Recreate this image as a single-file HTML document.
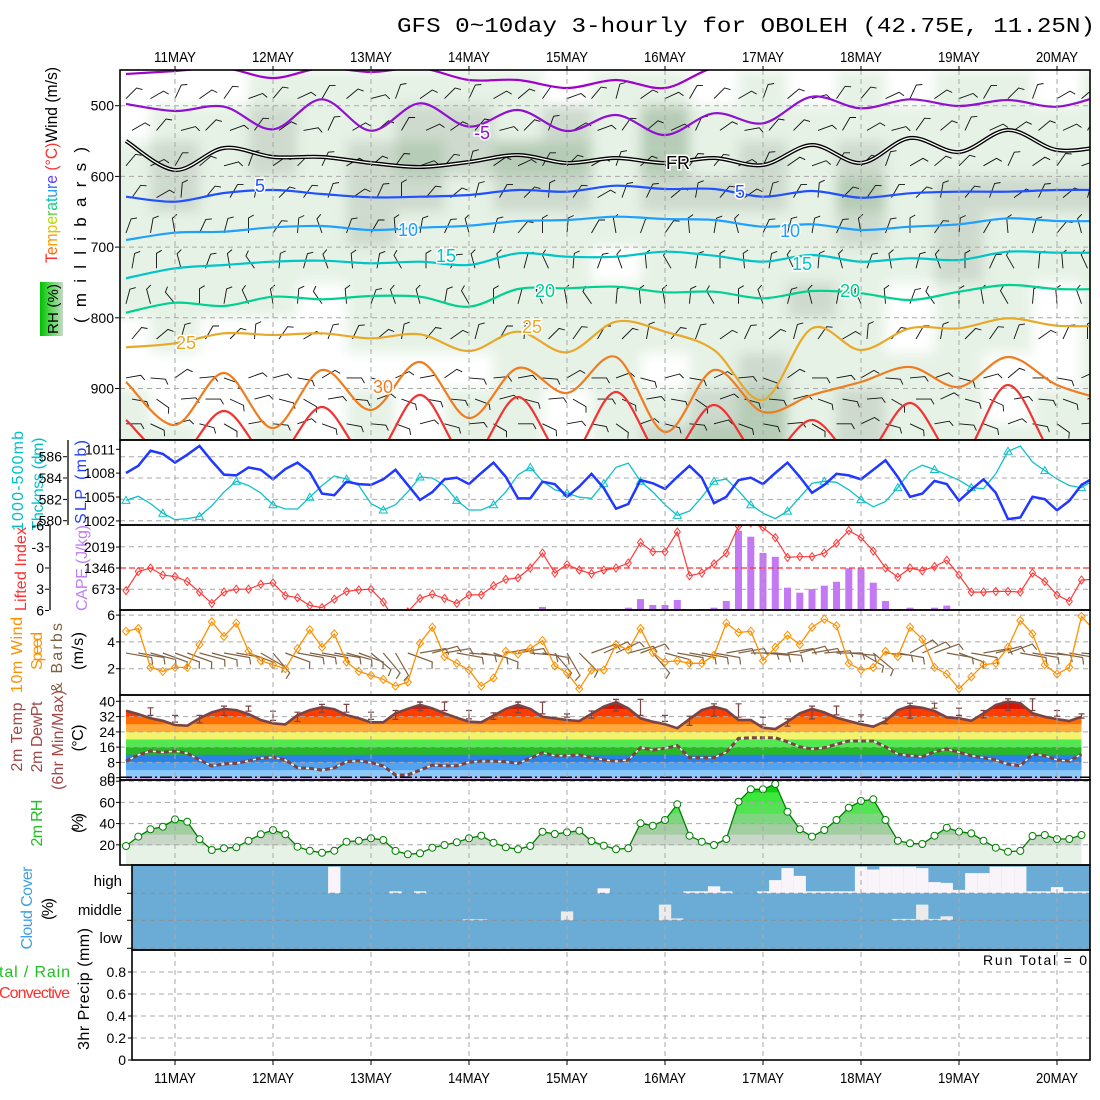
<!DOCTYPE html>
<html><head><meta charset="utf-8"><title>GFS meteogram OBOLEH</title>
<style>
html,body{margin:0;padding:0;background:#fff;}
svg{display:block;font-family:"Liberation Sans",sans-serif;}
</style></head>
<body>
<svg id="chart" xmlns="http://www.w3.org/2000/svg" width="1100" height="1100" viewBox="0 0 1100 1100">
<defs>
<clipPath id="c1"><rect x="120" y="70" width="970" height="370"/></clipPath>
<clipPath id="c2"><rect x="120" y="440" width="970" height="85"/></clipPath>
<clipPath id="c3"><rect x="120" y="525" width="970" height="85"/></clipPath>
<clipPath id="c4"><rect x="120" y="610" width="970" height="85"/></clipPath>
<clipPath id="c5"><rect x="120" y="695" width="970" height="85"/></clipPath>
<clipPath id="c6"><rect x="120" y="780" width="970" height="85"/></clipPath>
<filter id="blur" x="-5%" y="-5%" width="110%" height="110%"><feGaussianBlur stdDeviation="6"/></filter>
<linearGradient id="rhgrad" x1="0" y1="0" x2="1" y2="0"><stop offset="0" stop-color="#00c000"/><stop offset="0.5" stop-color="#60d860"/><stop offset="1" stop-color="#c8d8c8"/></linearGradient>
</defs>
<rect x="0" y="0" width="1100" height="1100" fill="#fff"/>
<text x="397" y="32" font-family="Liberation Mono, monospace" font-size="21" textLength="698" lengthAdjust="spacingAndGlyphs">GFS 0~10day 3-hourly for OBOLEH (42.75E, 11.25N)</text>

<text transform="translate(57,165) rotate(-90)" text-anchor="middle" font-size="17" textLength="196" lengthAdjust="spacingAndGlyphs"><tspan fill="#ff3030">T</tspan><tspan fill="#ff6a00">e</tspan><tspan fill="#ff9a00">m</tspan><tspan fill="#e8c000">p</tspan><tspan fill="#b8d800">e</tspan><tspan fill="#60d040">r</tspan><tspan fill="#20c880">a</tspan><tspan fill="#00c0c0">t</tspan><tspan fill="#20a0f0">u</tspan><tspan fill="#3070ff">r</tspan><tspan fill="#6040ff">e</tspan><tspan fill="#ff3030"> (°C)</tspan><tspan fill="#000">Wind (m/s)</tspan></text>
<text transform="translate(86,235) rotate(-90)" text-anchor="middle" font-size="17" textLength="176" lengthAdjust="spacing">(millibars)</text>
<rect x="40" y="282" width="23" height="54" fill="url(#rhgrad)"/>
<text transform="translate(58,309) rotate(-90)" text-anchor="middle" font-size="15" textLength="50">RH (%)</text>
<text transform="translate(23,481) rotate(-90)" text-anchor="middle" font-size="16" fill="#00c0c8" textLength="100">1000-500mb</text>
<text transform="translate(43,484) rotate(-90)" text-anchor="middle" font-size="16" fill="#00c0c8" textLength="93">Thcknss (dm)</text>
<text transform="translate(86,482) rotate(-90)" text-anchor="middle" font-size="16" fill="#2040ff" textLength="84">SLP (mb)</text>
<text transform="translate(26,569) rotate(-90)" text-anchor="middle" font-size="16" fill="#ff3030" textLength="84">Lifted Index</text>
<text transform="translate(87,568) rotate(-90)" text-anchor="middle" font-size="16" fill="#c080f0" textLength="86">CAPE (J/kg)</text>
<text transform="translate(22,655) rotate(-90)" text-anchor="middle" font-size="16" fill="#ff9000" textLength="76">10m Wind</text>
<text transform="translate(42,651) rotate(-90)" text-anchor="middle" font-size="16" fill="#ff9000" textLength="38">Speed</text>
<text transform="translate(62,658) rotate(-90)" text-anchor="middle" font-size="16" fill="#806040" textLength="70">&amp; Barbs</text>
<text transform="translate(83,651) rotate(-90)" text-anchor="middle" font-size="16" textLength="38">(m/s)</text>
<text transform="translate(22,737) rotate(-90)" text-anchor="middle" font-size="16" fill="#a04848" textLength="69">2m Temp</text>
<text transform="translate(42,737) rotate(-90)" text-anchor="middle" font-size="16" fill="#a04848" textLength="71">2m DewPt</text>
<text transform="translate(63,740) rotate(-90)" text-anchor="middle" font-size="16" fill="#a04848" textLength="100">(6hr Min/Max)</text>
<text transform="translate(83,738) rotate(-90)" text-anchor="middle" font-size="16" textLength="27">(°C)</text>
<text transform="translate(42,823) rotate(-90)" text-anchor="middle" font-size="16" fill="#20c020" textLength="47">2m RH</text>
<text transform="translate(83,823) rotate(-90)" text-anchor="middle" font-size="16" textLength="20">(%)</text>
<text transform="translate(32,908) rotate(-90)" text-anchor="middle" font-size="16" fill="#40a0e0" textLength="83">Cloud Cover</text>
<text transform="translate(53,909) rotate(-90)" text-anchor="middle" font-size="16" textLength="22">(%)</text>
<text x="-1" y="977" font-size="16" fill="#20c020" textLength="71">tal / Rain</text>
<text x="-1" y="998" font-size="16" fill="#ff3030" textLength="71">Convective</text>
<text transform="translate(89,989) rotate(-90)" text-anchor="middle" font-size="16" textLength="122">3hr Precip (mm)</text>
<text x="1087" y="965" text-anchor="end" font-size="14" textLength="104">Run Total = 0</text>
</svg>
<script>
// ===== DATA (3-hourly, starting 12Z 10 May) =====
const days = ['11MAY','12MAY','13MAY','14MAY','15MAY','16MAY','17MAY','18MAY','19MAY','20MAY'];
const slp = [1008.4,1009.3,1011.2,1010.8,1009.7,1010.7,1011.8,1009.9,1008.2,1008.1,1009.1,1008.8,1007.6,1008.9,1009.7,1008.5,1005.8,1005.6,1007.3,1007.0,1006.9,1007.6,1008.8,1006.9,1005.0,1006.0,1007.6,1007.8,1007.0,1008.4,1009.7,1007.9,1005.2,1005.2,1007.3,1007.0,1005.4,1006.7,1008.3,1006.5,1003.9,1004.5,1007.5,1007.1,1006.4,1007.9,1009.3,1007.8,1004.6,1005.4,1007.5,1007.8,1007.0,1008.4,1009.7,1007.9,1005.9,1006.9,1008.3,1008.1,1007.6,1008.8,1010.0,1007.9,1005.4,1005.8,1007.4,1007.0,1004.9,1006.3,1007.6,1005.9,1002.6,1002.8,1005.4,1005.1,1003.7,1004.9,1006.9,1007.8];
const thick = [581.9,582.3,581.6,580.7,580.1,580.2,580.4,581.4,582.7,583.7,583.3,582.6,581.5,581.1,581.1,582.2,583.3,584.2,583.9,583.3,581.6,581.0,581.5,582.7,584.1,584.0,583.3,581.9,581.0,581.0,581.5,582.7,584.3,585.0,583.7,582.9,582.6,582.2,582.1,583.5,585.0,585.4,583.7,582.7,581.5,580.5,580.9,582.2,583.7,583.9,582.8,581.5,580.7,580.2,580.9,582.2,583.5,583.7,583.6,582.9,582.0,581.3,581.8,583.1,584.6,585.2,584.8,584.3,583.8,583.1,583.0,584.4,586.5,587.0,585.5,584.7,583.9,583.3,583.1,583.8];
const liftedIndex = [3.2,0.5,0.0,1.0,1.2,1.9,3.4,5.0,3.4,3.0,3.0,2.3,2.1,3.9,4.2,5.3,5.6,4.4,3.3,3.1,3.0,4.8,7.5,6.2,4.3,3.7,4.3,5.0,3.8,3.8,2.5,1.6,1.4,0.0,-2.1,0.7,-0.5,0.3,0.8,0.3,0.0,-0.7,-3.6,-2.3,-2.3,-5.1,1.1,0.7,-0.6,-2.1,-5.9,-6.4,-5.7,-4.3,-1.5,-1.6,-1.6,-2.1,-3.5,-5.3,-4.3,-2.4,0.0,1.3,0.0,0.4,-0.2,-1.1,1.0,3.4,3.4,3.3,3.3,3.4,0.7,1.9,3.8,4.7,1.7,1.6];
const cape = [0,0,0,15,15,0,0,0,0,0,0,0,0,0,0,0,0,0,0,0,0,0,0,0,0,0,0,0,0,0,0,0,0,30,100,0,30,30,30,30,30,75,350,160,160,320,0,30,75,290,2540,2350,1830,1705,715,555,670,780,905,1335,1335,875,290,30,75,30,75,140,0,0,30,0,0,0,0,0,0,0,30,0];
const windSpeed = [4.8,5.0,2.1,1.8,2.1,2.1,3.8,5.5,4.4,5.4,3.3,2.6,2.3,2.0,3.5,4.9,3.6,4.6,2.5,1.8,1.5,1.2,0.7,1.0,3.9,5.1,2.9,2.4,1.9,0.7,1.3,3.3,3.1,3.5,4.1,2.2,1.7,0.5,1.9,1.9,3.8,3.4,5.0,3.2,2.5,2.6,2.4,2.4,3.0,5.4,4.7,4.8,2.6,3.6,4.5,3.8,5.1,5.7,5.2,2.4,1.9,2.1,3.3,2.9,5.1,4.2,2.1,1.6,0.5,1.4,2.3,2.4,3.6,5.6,4.6,2.3,1.6,2.1,5.9,4.9];
const windDir = [100,100,105,110,110,110,105,105,100,100,110,120,140,110,100,100,100,100,105,110,130,140,150,110,80,75,80,100,95,100,110,80,80,95,100,140,150,135,70,65,65,75,70,140,105,100,100,100,100,80,80,90,95,95,80,75,80,85,90,95,120,130,95,100,60,65,70,100,110,100,80,75,70,100,100,95,100,100,95,95];
const temp2m = [35.1,33.3,31.1,29.8,27.6,27.2,31.1,34.2,36.0,35.4,33.3,30.2,28.5,27.9,32.8,35.4,36.9,35.8,32.8,31.1,29.0,29.0,33.7,36.0,38.1,36.3,33.7,31.4,29.3,29.0,32.5,36.0,38.1,36.0,31.9,31.1,30.2,29.7,33.4,37.2,39.5,36.3,31.1,29.3,28.0,25.9,30.7,35.4,37.2,35.4,30.2,30.2,26.2,25.5,29.3,33.7,36.0,34.2,31.4,29.7,28.0,26.7,29.7,35.4,37.5,36.6,34.9,31.6,31.1,29.8,33.7,38.1,39.8,39.0,33.7,31.9,30.7,29.7,31.9];
const dew2m = [8.7,11.9,14.0,13.3,14.0,12.8,9.3,6.1,7.2,7.5,8.9,10.2,10.7,9.3,5.2,4.9,4.0,5.2,8.4,8.9,7.9,6.1,1.4,1.4,4.0,6.6,6.3,6.3,8.1,8.7,8.7,8.4,7.5,10.2,13.1,11.5,11.5,11.9,10.5,9.3,8.7,9.3,15.7,14.5,15.4,16.8,10.5,10.5,10.5,13.3,20.6,20.9,20.9,20.9,18.8,16.2,15.0,15.7,17.5,19.2,19.2,19.2,16.2,12.3,11.5,11.0,13.6,15.0,13.3,11.5,10.5,9.3,7.0,6.3,12.3,11.5,9.3,8.7,12.3];
const rh2m = [18.9,27.7,34.6,37.1,44.0,41.8,25.2,15.1,16.7,17.6,23.9,29.9,34.0,29.9,18.2,14.4,12.5,14.4,22.9,23.9,26.1,24.5,14.2,11.0,12.0,17.3,19.8,22.4,26.1,28.6,22.0,17.6,15.8,18.9,32.4,30.2,31.8,33.3,23.6,19.2,15.8,16.7,40.3,38.0,43.4,58.2,28.6,22.9,19.8,25.5,60.7,72.4,72.4,77.4,51.2,34.6,27.7,34.0,43.4,55.0,61.3,62.9,43.4,23.9,21.4,20.8,28.6,36.1,32.4,30.8,23.9,17.3,13.5,14.2,28.3,29.2,25.5,25.5,29.2];
const cloudHigh = [0,0,0,0,0,0,0,0,0,0,0,0,0,0,0,0,0,95,0,0,0,0,7,0,7,0,0,0,0,0,0,0,0,0,0,0,0,0,0,18,0,0,0,0,0,0,7,7,25,7,0,0,7,47,90,62,7,7,7,7,95,85,95,95,95,90,40,37,12,72,72,95,95,95,7,7,22,7,7,7];
const cloudMid = [0,0,0,0,0,0,0,0,0,0,0,0,0,0,0,0,0,0,0,0,0,0,0,0,0,0,0,0,4,4,0,0,0,0,0,0,33,0,0,0,0,0,0,0,58,7,0,0,0,0,0,0,0,0,0,0,0,0,0,0,0,0,0,5,5,58,5,15,0,0,0,0,0,0,0,0,0,0,0,0];
const cloudLow = new Array(80).fill(0);
const precip = new Array(80).fill(0);
const isoTimes = [0,4,8,12,16,20,24,28,32,36,40,44,48,52,56,60,64,68,72,76,80];
const isoM10 = [455.2,450.9,446.7,460.8,446.7,452.3,446.7,463.6,463.6,474.9,463.6,474.9,446.7,446.7,446.7,446.7,446.7,443.8,443.8,443.8,443.8];
const isoM5 = [497.6,507.5,501.4,533.4,490.9,535.4,496.6,529.6,506.1,535.8,513.2,541.4,510.7,524.9,487.3,503.7,490.9,500.4,491.9,501.4,483.5];
const iso0 = [549.9,590.9,559.8,572.6,572.6,581.0,586.7,579.6,569.7,581.0,574.0,581.0,574.0,583.9,555.6,581.0,545.7,565.5,534.4,562.7,557.0];
const iso5 = [628.7,635.8,623.5,619.2,624.9,629.6,628.7,626.3,619.2,621.6,613.2,617.8,617.8,628.7,620.6,630.1,623.9,621.6,621.6,619.2,619.2];
const iso10 = [690.0,679.6,678.2,672.0,670.2,675.8,672.6,669.7,663.1,661.7,657.0,660.3,661.7,671.1,667.7,675.8,671.1,667.7,659.3,663.1,663.1];
const iso15 = [744.1,730.0,725.3,720.6,719.2,722.9,720.6,725.3,708.8,713.6,713.6,706.5,712.2,720.6,711.2,720.6,715.8,718.2,706.5,707.9,707.9];
const iso20 = [792.8,778.6,783.3,770.2,773.8,769.2,770.2,784.3,759.3,758.3,756.0,763.9,763.1,772.4,762.1,765.4,774.8,763.1,753.6,759.3,759.3];
const iso25 = [841.7,836.1,821.9,824.3,821.9,829.0,823.3,847.0,819.7,848.8,805.5,819.7,845.5,916.2,814.8,845.5,814.8,814.8,800.7,811.2,811.2];
const iso30 = [890.8,951.6,878.1,955.9,873.8,930.4,862.5,941.7,871.0,906.4,855.4,961.5,873.8,933.2,909.2,890.8,869.6,897.9,855.4,895.1,916.2];
const iso35 = [944.5,1001,931.8,1001,926.2,1001,909.2,1001,912.0,1001,904.9,1001,923.4,1001,944.5,1001,920.5,1001,895.1,1001,1001];
const rhLevels = [475,525,575,625,675,725,775,825,875,925,975];
const rhGrid = [
[20,20,40,40,40,40,40,20,20,40,40],[20,40,60,60,40,40,40,40,20,20,40],[20,40,40,40,40,40,40,20,20,20,20],
[40,60,60,40,40,40,40,20,20,20,40],[40,40,40,40,40,40,20,20,20,20,20],[40,40,60,60,60,40,40,40,20,40,40],
[40,60,70,60,40,40,40,40,20,20,20],[40,60,60,40,40,40,40,40,20,40,40],[40,40,70,60,40,40,40,40,40,40,40],
[20,60,70,60,40,40,40,40,40,20,20],[40,40,40,40,40,20,40,40,40,40,40],[40,70,70,60,40,40,40,40,20,40,60],
[20,40,40,60,40,40,40,40,40,60,70],[40,40,60,60,40,40,40,40,60,70,70],[20,40,40,40,40,40,60,40,40,40,40],
[40,40,60,70,60,40,40,40,40,60,60],[20,40,40,40,40,40,20,20,40,40,40],[40,40,40,60,60,60,40,40,40,40,40],
[40,40,40,60,40,40,40,40,20,20,40],[20,40,40,60,40,40,20,20,20,40,40],[40,40,40,60,40,40,40,40,40,40,40]];
const barbLevels = [490,535,585,630,680,730,780,830,885,915,950];
const barbDir = [45,50,45,30,10,355,350,30,80,95,95];
const barbColOffset = [0,15,-20,10,-10,25,-5,20,-15,5,30,-25,10,0,-20,15,5,-10,25,-5,-30,10,20,-15,0,15,-25,5,30,-10,-5,20,-20,10,25,-15,0,-25,15,5];

// ===== SCALES =====
const NS='http://www.w3.org/2000/svg';
const svg=document.getElementById('chart');
function mk(tag,at,parent){const e=document.createElementNS(NS,tag);for(const k in at)e.setAttribute(k,at[k]);(parent||svg).appendChild(e);return e;}
const X=i=>126+i*12.25;
const dayX=d=>X(4+8*d);
const yP=p=>105.7+(p-500)*0.707;
const ySLP=v=>500-(v-1005)*7.95;
const yTh=v=>520.7-(v-580)*10.67;
const yLI=v=>568+v*7.08;
const yCAPE=v=>610-v/32.05;
const yW=v=>695.5-v*13.4;
const yT=v=>777.7-v*1.91;
const yRH=v=>866-v*1.06;
const yPr=v=>1060-v*110;
const f=n=>n.toFixed(1);
function poly(xs,ys){return xs.map((x,k)=>f(x)+','+f(ys[k])).join(' ');}
function smooth(pts){let d='M'+f(pts[0][0])+','+f(pts[0][1]);for(let i=0;i<pts.length-1;i++){const p0=pts[i-1]||pts[i],p1=pts[i],p2=pts[i+1],p3=pts[i+2]||p2;const c1=[p1[0]+(p2[0]-p0[0])/6,p1[1]+(p2[1]-p0[1])/6],c2=[p2[0]-(p3[0]-p1[0])/6,p2[1]-(p3[1]-p1[1])/6];d+='C'+f(c1[0])+','+f(c1[1])+' '+f(c2[0])+','+f(c2[1])+' '+f(p2[0])+','+f(p2[1]);}return d;}
const grid='#a8a8a8';

// ===== PANEL 1 =====
const g1=mk('g',{'clip-path':'url(#c1)'});


const rhG=mk('g',{filter:'url(#blur)'},g1);


isoTimes.forEach((t,c)=>{rhLevels.forEach((p,r)=>{const v=rhGrid[c][r];if(v<30)return;
  const col=v>=70?'#b6ccb6':(v>=50?'#cddacd':'#e6f2e6');
  const cell=mk('rect',{x:f(X(t)-24.5),y:f(yP(p-25)),width:49,height:f(35.4),fill:col},rhG);
  
  });});
[500,600,700,800,900].forEach(p=>{const l=mk('line',{x1:120,x2:1090,y1:f(yP(p)),y2:f(yP(p)),stroke:grid,'stroke-dasharray':'5,4'},g1);
  
  });
const bg=mk('g',{stroke:'#111','stroke-width':0.9,fill:'none'},g1);


for(let c=0;c<40;c++){const i=c*2+((c%2)?0:1)*0;barbLevels.forEach((p,k)=>{const d=(barbDir[k]+barbColOffset[(c+k*3)%40])*Math.PI/180;const x0=X(c*2)+((k%2)?6:0),y0=yP(p);const L=15;
  const x1=x0+Math.sin(d)*L,y1=y0-Math.cos(d)*L;const d2=d+Math.PI/3;
  const b=mk('path',{d:'M'+f(x0)+','+f(y0)+'L'+f(x1)+','+f(y1)+'l'+f(Math.sin(d2)*6)+','+f(-Math.cos(d2)*6)},bg);
  
  });}
const isoSets=[[isoM10,'#a000cc','isotherm-minus10'],[isoM5,'#9010d0','isotherm-minus5'],[iso5,'#2050ff','isotherm-5'],[iso10,'#1ea0ff','isotherm-10'],[iso15,'#00c4c8','isotherm-15'],[iso20,'#00d090','isotherm-20'],[iso25,'#e8a828','isotherm-25'],[iso30,'#f07c20','isotherm-30'],[iso35,'#f03434','isotherm-35']];
isoSets.forEach(s=>{const pts=isoTimes.map((t,k)=>[X(t),yP(s[0][k])]);const pa=mk('path',{d:smooth(pts),fill:'none',stroke:s[1],'stroke-width':2.2},g1);
  
  });
{const pts=isoTimes.map((t,k)=>[X(t),yP(iso0[k])]);
 const a=mk('path',{d:smooth(pts),fill:'none',stroke:'#000','stroke-width':4},g1);
 
 
 const b=mk('path',{d:smooth(pts),fill:'none',stroke:'#fff','stroke-width':1.3},g1);
 
 }
const isoLabels=[['-5',482,139,'#9010d0'],['5',260,192,'#2050ff'],['10',408,236,'#1ea0ff'],['15',446,262,'#00c4c8'],['20',545,297,'#00d090'],['25',186,349,'#e8a828'],['25',532,333,'#e8a828'],['30',383,393,'#f07c20'],['FR',678,169,'#000'],['5',740,198,'#2050ff'],['10',790,237,'#1ea0ff'],['15',802,270,'#00c4c8'],['20',850,297,'#00d090']];
isoLabels.forEach(l=>{const t=mk('text',{x:l[1],y:l[2],'text-anchor':'middle','font-size':18,fill:l[3],stroke:'#fff','stroke-width':3,'paint-order':'stroke'},g1);t.textContent=l[0];
  
  });

// ===== PANEL 2 =====
const g2=mk('g',{'clip-path':'url(#c2)'});


[580,582,584,586].forEach(v=>{const l=mk('line',{x1:120,x2:1090,y1:f(yTh(v)),y2:f(yTh(v)),stroke:grid,'stroke-dasharray':'5,4'},g2);
  
  });
const xs80=slp.map((v,i)=>X(i));
const thL=mk('polyline',{points:poly(xs80,thick.map(yTh)),fill:'none',stroke:'#10c0c8','stroke-width':1.3},g2);


thick.forEach((v,i)=>{if(i%3!==0)return;const x=X(i),y=yTh(v);const m=mk('path',{d:'M'+f(x)+','+f(y-4)+'L'+f(x+4)+','+f(y+3)+'L'+f(x-4)+','+f(y+3)+'Z',fill:'none',stroke:'#10c0c8','stroke-width':1},g2);
  
  });
const slpL=mk('polyline',{points:poly(xs80,slp.map(ySLP)),fill:'none',stroke:'#2038ff','stroke-width':2.5},g2);



// ===== PANEL 3 =====
const g3=mk('g',{'clip-path':'url(#c3)'});


[-3,3].forEach(v=>{const l=mk('line',{x1:120,x2:1090,y1:f(yLI(v)),y2:f(yLI(v)),stroke:grid,'stroke-dasharray':'5,4'},g3);
  
  });
cape.forEach((v,i)=>{if(v<=0)return;const bar=mk('rect',{x:f(X(i)-3.5),y:f(yCAPE(v)),width:7,height:f(610-yCAPE(v)),fill:'#c478f4'},g3);
  
  });
const li0=mk('line',{x1:120,x2:1090,y1:yLI(0),y2:yLI(0),stroke:'#ff3030','stroke-dasharray':'6,3','stroke-width':1.3},g3);


const liL=mk('polyline',{points:poly(xs80,liftedIndex.map(yLI)),fill:'none',stroke:'#ff3838','stroke-width':1.2},g3);


liftedIndex.forEach((v,i)=>{const x=X(i),y=yLI(v);const m=mk('path',{d:'M'+f(x)+','+f(y-4)+'L'+f(x+3)+','+f(y)+'L'+f(x)+','+f(y+4)+'L'+f(x-3)+','+f(y)+'Z',fill:'none',stroke:'#ff3838','stroke-width':1},g3);
  
  });

// ===== PANEL 4 =====
const g4=mk('g',{'clip-path':'url(#c4)'});


[2,4,6].forEach(v=>{const l=mk('line',{x1:120,x2:1090,y1:f(yW(v)),y2:f(yW(v)),stroke:grid,'stroke-dasharray':'5,4'},g4);
  
  });
windDir.forEach((dd,i)=>{const d=dd*Math.PI/180;const x0=X(i),y0=653;const L=26;const x1=x0+Math.sin(d)*L,y1=y0-Math.cos(d)*L;const d2=d+Math.PI/2.5;
  const b=mk('path',{d:'M'+f(x0)+','+f(y0)+'L'+f(x1)+','+f(y1)+'l'+f(Math.sin(d2)*7)+','+f(-Math.cos(d2)*7),stroke:'#806040','stroke-width':1.2,fill:'none'},g4);
  
  });
const wsL=mk('polyline',{points:poly(xs80,windSpeed.map(yW)),fill:'none',stroke:'#ff9000','stroke-width':1.3},g4);


windSpeed.forEach((v,i)=>{const x=X(i),y=yW(v);const m=mk('path',{d:'M'+f(x)+','+f(y-4)+'L'+f(x+3.5)+','+f(y)+'L'+f(x)+','+f(y+4)+'L'+f(x-3.5)+','+f(y)+'Z',fill:'none',stroke:'#ff9000','stroke-width':1},g4);
  
  });

// ===== PANEL 5 =====
const g5=mk('g',{'clip-path':'url(#c5)'});


const tN=temp2m.length;
const tXs=temp2m.map((v,i)=>X(i));
mk('clipPath',{id:'tclip'},svg.querySelector('defs'));
const tcp=document.getElementById('tclip');
mk('polygon',{points:poly(tXs,temp2m.map(yT))+' '+f(X(tN-1))+',781 '+f(X(0))+',781'},tcp);
const bandG=mk('g',{'clip-path':'url(#tclip)'},g5);


const bands=[[40,46,'#b00000'],[36,40,'#d81400'],[32,36,'#ff3c00'],[28,32,'#ff6c00'],[24,28,'#ffaa3c'],[20,24,'#f4f46c'],[16,20,'#50ea50'],[12,16,'#28b828'],[8,12,'#2a82e6'],[4,8,'#52a2f2'],[0,4,'#8cc8f8']];
bands.forEach(b=>{const r=mk('rect',{x:120,y:f(yT(b[1])),width:970,height:f(yT(b[0])-yT(b[1])+0.5),fill:b[2]},bandG);
  
  });
const lav=mk('rect',{x:f(X(0)),y:777.7,width:f(X(tN-1)-X(0)),height:3,fill:'#c8a8e0'},g5);


[8,16,24,32,40].forEach(v=>{const l=mk('line',{x1:120,x2:1090,y1:f(yT(v)),y2:f(yT(v)),stroke:grid,'stroke-dasharray':'5,4'},g5);
  
  });
const zl=mk('line',{x1:120,x2:1090,y1:777.2,y2:777.2,stroke:'#000','stroke-width':1.5,'stroke-dasharray':'12,3,2,3'},g5);


const tL=mk('polyline',{points:poly(tXs,temp2m.map(yT)),fill:'none',stroke:'#7a4444','stroke-width':2.6},g5);


for(let i=2;i<tN;i+=2){const win=temp2m.slice(i-2,i+1);const hi=Math.max(...win)+1.5,lo=Math.min(...win)+1.5;const x=X(i);
  const m=mk('path',{d:'M'+f(x)+','+f(yT(hi))+'V'+f(yT(lo))+'M'+f(x-3)+','+f(yT(hi))+'h6M'+f(x-3)+','+f(yT(lo))+'h6',stroke:'#7a4444','stroke-width':1.2,fill:'none'},g5);
  
  }
const dXs=dew2m.map((v,i)=>X(i));
const dw=mk('polyline',{points:poly(dXs,dew2m.map(yT)),fill:'none',stroke:'#fff','stroke-width':1.3},g5);


const dL=mk('polyline',{points:poly(dXs,dew2m.map(yT)),fill:'none',stroke:'#7a4444','stroke-width':3,'stroke-dasharray':'5,3'},g5);



// ===== PANEL 6 =====
const g6=mk('g',{'clip-path':'url(#c6)'});


const rN=rh2m.length;const rXs=rh2m.map((v,i)=>X(i));
mk('clipPath',{id:'rclip'},svg.querySelector('defs'));
mk('polygon',{points:poly(rXs,rh2m.map(yRH))+' '+f(X(rN-1))+',866 '+f(X(0))+',866'},document.getElementById('rclip'));
const rbG=mk('g',{'clip-path':'url(#rclip)'},g6);


const rbands=[[0,20,'#e6f2e6'],[20,30,'#c8d7c8'],[30,40,'#a2cea2'],[40,50,'#7ed67e'],[50,60,'#52e252'],[60,70,'#3ce83c'],[70,80,'#10d010'],[80,100,'#00c000']];
rbands.forEach(b=>{const r=mk('rect',{x:120,y:f(yRH(b[1])),width:970,height:f(yRH(b[0])-yRH(b[1])+0.5),fill:b[2]},rbG);
  
  });
[20,40,60,80].forEach(v=>{const l=mk('line',{x1:120,x2:1090,y1:f(yRH(v)),y2:f(yRH(v)),stroke:grid,'stroke-dasharray':'5,4'},g6);
  
  });
const rL=mk('polyline',{points:poly(rXs,rh2m.map(yRH)),fill:'none',stroke:'#008000','stroke-width':1.3},g6);


rh2m.forEach((v,i)=>{const c=mk('circle',{cx:f(X(i)),cy:f(yRH(v)),r:3.5,fill:'#fff',stroke:'#008000','stroke-width':1},g6);
  
  });

// ===== PANEL 7 =====
const g7=mk('g',{});


const cbg=mk('rect',{x:132,y:865.3,width:958,height:84.7,fill:'#6aacd6'},g7);


const cl=[[cloudHigh,893.3,28,'#f8f4fa'],[cloudMid,920.3,27,'#ebebeb'],[cloudLow,948.3,28,'#ebebeb']];
cl.forEach(L=>{L[0].forEach((v,i)=>{if(v<=0)return;const h=L[2]*v/100;const x0=Math.max(132,X(i)-6.125),x1=Math.min(1090,X(i)+6.125);if(x1<=x0)return;
  const r=mk('rect',{x:f(x0),y:f(L[1]-h),width:f(x1-x0),height:f(h),fill:L[3]},g7);
  
  });});
[893.3,920.3,948.3].forEach(y=>{const l=mk('line',{x1:132,x2:1090,y1:y,y2:y,stroke:'#909090','stroke-dasharray':'5,4'},g7);
  
  
  const t=mk('line',{x1:127,x2:132,y1:y,y2:y,stroke:'#000'},g7);
  
  });
[['high',886],['middle',915],['low',943]].forEach(l=>{const t=mk('text',{x:122,y:l[1],'text-anchor':'end','font-size':15},g7);t.textContent=l[0];
  
  });

// ===== PANEL 8 =====
const g8=mk('g',{});


[0.2,0.4,0.6,0.8].forEach(v=>{const l=mk('line',{x1:132,x2:1090,y1:f(yPr(v)),y2:f(yPr(v)),stroke:grid,'stroke-dasharray':'5,4'},g8);
  
  });
precip.forEach((v,i)=>{if(v<=0)return;const r=mk('rect',{x:f(X(i)-4),y:f(yPr(v)),width:8,height:f(1060-yPr(v)),fill:'#20c020'},g8);
  
  });
[0,0.2,0.4,0.6,0.8].forEach(v=>{const t=mk('text',{x:126,y:f(yPr(v)+5),'text-anchor':'end','font-size':14},g8);t.textContent=v===0?'0':String(v);
  
  
  const k=mk('line',{x1:128,x2:132,y1:f(yPr(v)),y2:f(yPr(v)),stroke:'#000'},g8);
  
  });

// ===== day gridlines & labels =====
days.forEach((d,k)=>{const x=dayX(k);
  const l=mk('line',{x1:f(x),x2:f(x),y1:70,y2:1060,stroke:grid,'stroke-dasharray':'5,4'});
  
  
  [[62,'top'],[1083,'bottom']].forEach(p=>{const t=mk('text',{x:f(x),y:p[0],'text-anchor':'middle','font-size':15,textLength:42,lengthAdjust:'spacingAndGlyphs'});t.textContent=d;
    
    
    const tk=mk('line',{x1:f(x),x2:f(x),y1:p[1]==='top'?66:1060,y2:p[1]==='top'?70:1065,stroke:'#000'});
    
    });});

// ===== frames & axis labels =====
const frames=[[120,70,970,370],[120,440,970,85],[120,525,970,85],[120,610,970,85],[120,695,970,85],[120,780,970,85],[132,865,958,85],[132,950,958,110]];
frames.forEach(fr=>{const r=mk('rect',{x:fr[0],y:fr[1],width:fr[2],height:fr[3],fill:'none',stroke:'#000','stroke-width':1.6});
  
  });
function tickLabels(vals,yf,xr,name){vals.forEach(v=>{const y=yf(v);const t=mk('text',{x:xr,y:f(y+5),'text-anchor':'end','font-size':14});t.textContent=String(v);
  
  
  const k=mk('line',{x1:xr+1,x2:xr+5,y1:f(y),y2:f(y),stroke:'#000'});
  
  });}
tickLabels([500,600,700,800,900],yP,114,'pressure-tick-label');
tickLabels([580,582,584,586],yTh,62,'thickness-tick-label');
tickLabels([1002,1005,1008,1011],v=>ySLP(v)-3,115,'slp-tick-label');
tickLabels([-6,-3,0,3,6],yLI,44,'li-tick-label');
tickLabels([673,1346,2019],yCAPE,115,'cape-tick-label');
tickLabels([2,4,6],yW,115,'wind-tick-label');
tickLabels([0,8,16,24,32,40],yT,115,'temp-tick-label');
tickLabels([20,40,60,80],yRH,115,'rh-tick-label');
[[68,440,525],[50,525,610]].forEach(a=>{const l=mk('line',{x1:a[0],x2:a[0],y1:a[1],y2:a[2],stroke:'#000','stroke-width':1.3});
  
  });
</script>
</body></html>
